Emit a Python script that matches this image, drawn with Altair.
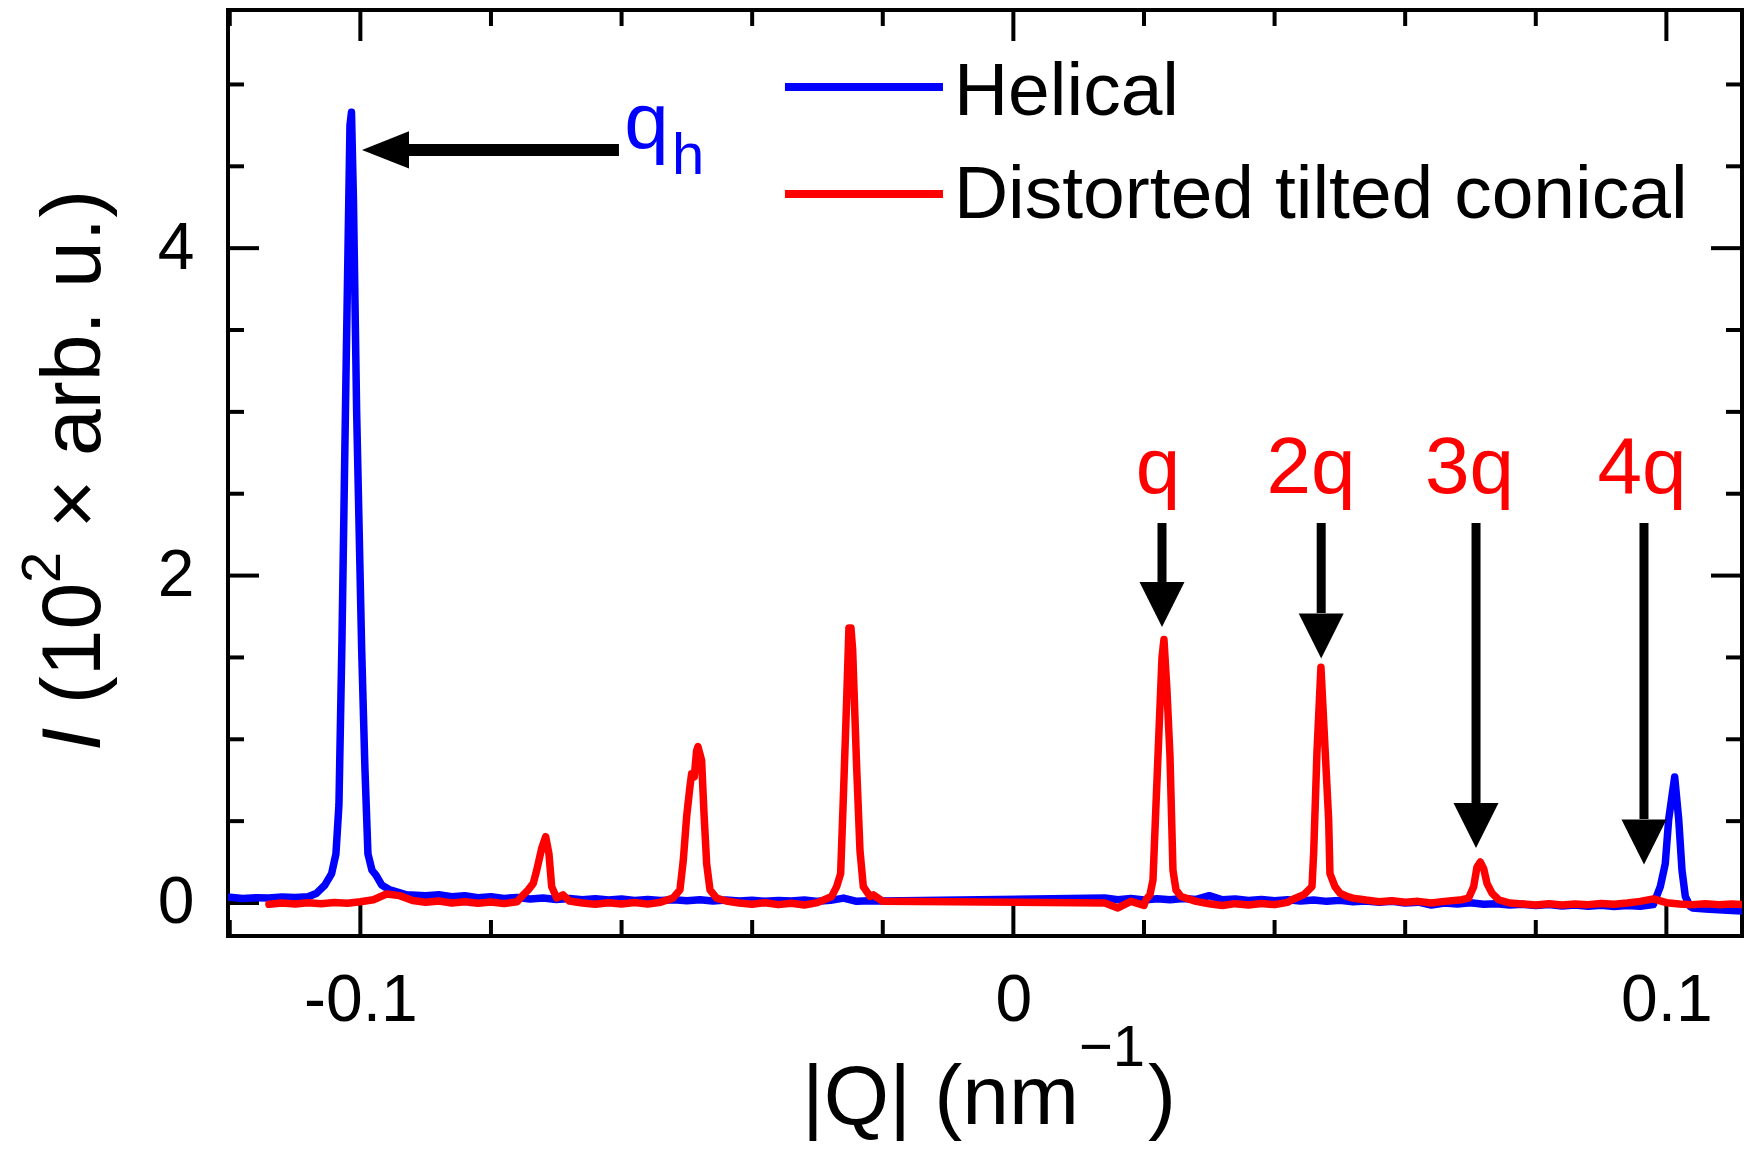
import altair as alt
import pandas as pd

FONT = "Liberation Sans"
BLUE = "#0000ff"
RED = "#ff0000"
STEP = 0.002

# ---------------- data: Helical (blue) ----------------
# baseline segments: first Q, then one intensity every STEP
blue_base_1_start = -0.120
blue_base_1 = [0.035, 0.028, 0.032, 0.030, 0.036, 0.033, 0.038]
blue_base_2_start = -0.090
blue_base_2 = [0.045, 0.050, 0.038, 0.045, 0.032, 0.038, 0.028, 0.034, 0.025, 0.030,
               0.022, 0.028, 0.020, 0.026, 0.018, 0.024, 0.016, 0.022, 0.015, 0.020,
               0.014, 0.020, 0.012, 0.018, 0.012, 0.017, 0.010, 0.016, 0.012, 0.018,
               0.010, 0.016, 0.030, 0.010, 0.014, 0.012]
blue_base_3_start = 0.014
blue_base_3 = [0.030, 0.020, 0.028, 0.018, 0.026, 0.020, 0.028, 0.022, 0.045, 0.020,
               0.025, 0.016, 0.022, 0.014, 0.020, 0.012, 0.018, 0.010, 0.016, 0.008,
               0.012, 0.004, 0.010, 0.000, 0.005, -0.012, 0.000, -0.006, 0.002, -0.008,
               -0.004, -0.012, -0.008, -0.016, -0.010, -0.018, -0.012, -0.020, -0.014, -0.022,
               -0.016, -0.020]
blue_base_4_start = 0.104
blue_base_4 = [-0.030, -0.036, -0.042, -0.046, -0.050]

blue_peak_1_q = [-0.10669, -0.10542, -0.10440, -0.10374, -0.10328, -0.10282, -0.10221,
                 -0.10159, -0.10136, -0.10106, -0.10057, -0.09980, -0.09930, -0.09884,
                 -0.09822, -0.09761, -0.09674, -0.09547, -0.09291]
blue_peak_1_i = [0.06, 0.11, 0.18, 0.30, 0.60, 1.60, 3.20,
                 4.75, 4.83, 4.30, 3.00, 1.55, 0.82, 0.30,
                 0.20, 0.17, 0.11, 0.08, 0.05]
blue_peak_2_q = [0.09800, 0.09907, 0.09983, 0.10035, 0.10127, 0.10189, 0.10239, 0.10290, 0.10362]
blue_peak_2_i = [-0.01, 0.10, 0.24, 0.51, 0.77, 0.51, 0.20, 0.04, -0.02]

# ---------------- data: Distorted tilted conical (red) ----------------
red_base_1_start = -0.114
red_base_1 = [-0.008, 0.000, -0.006, 0.002, -0.004, 0.003, -0.002, 0.008, 0.020, 0.055,
              0.045, 0.015, 0.005, 0.012, 0.000, 0.008, -0.002, 0.006, -0.004, 0.008]
red_base_2_start = -0.068
red_base_2 = [0.012, 0.000, -0.008, 0.002, -0.006, 0.003, -0.007, 0.005]
red_base_3_start = -0.044
red_base_3 = [0.012, 0.000, -0.008, 0.002, -0.010, -0.002, -0.012, 0.002]
red_base_4_start = -0.020
red_base_4 = [0.010]
red_base_5_start = 0.014
red_base_5 = [0.000, -0.030, 0.010, -0.015]
red_base_6_start = 0.028
red_base_6 = [0.010, -0.005, -0.015, -0.004, -0.012, -0.003, -0.010, 0.004]
red_base_7_start = 0.052
red_base_7 = [0.030, 0.018, 0.008, 0.014, 0.004, 0.010, 0.000, 0.010]
red_base_8_start = 0.076
red_base_8 = [0.000, -0.006, -0.012, -0.004, -0.012, -0.006, -0.010, -0.003, -0.008, 0.000,
              0.010, 0.025, 0.002, -0.006, -0.010, -0.004, -0.010, -0.006, -0.010]

red_peak_a_q = [-0.07505, -0.07429, -0.07352, -0.07300, -0.07223, -0.07162, -0.07112,
                -0.07070, -0.06994, -0.06897]
red_peak_a_i = [0.05, 0.08, 0.12, 0.20, 0.334, 0.405, 0.30, 0.10, 0.03, 0.05]
red_peak_b_q = [-0.05213, -0.05106, -0.05055, -0.05003, -0.04953, -0.04927, -0.04887,
                -0.04851, -0.04830, -0.04774, -0.04738, -0.04697, -0.04646, -0.04545]
red_peak_b_i = [0.03, 0.08, 0.26, 0.53, 0.71, 0.79, 0.77, 0.93, 0.955, 0.87, 0.55, 0.24, 0.08, 0.03]
red_peak_c_q = [-0.02783, -0.02706, -0.02645, -0.02605, -0.02553, -0.02518, -0.02487,
                -0.02461, -0.02400, -0.02349, -0.02298, -0.02196, -0.02145]
red_peak_c_i = [0.04, 0.10, 0.18, 0.63, 1.24, 1.68, 1.68, 1.545, 0.83, 0.32, 0.10, 0.04, 0.05]
red_peak_q_q = [0.02031, 0.02092, 0.02138, 0.02184, 0.02230, 0.02276, 0.02306, 0.02352,
                0.02398, 0.02444, 0.02490, 0.02567, 0.02643]
red_peak_q_i = [0.02, 0.05, 0.14, 0.60, 1.05, 1.50, 1.61, 1.30, 0.90, 0.20, 0.08, 0.04, 0.03]
red_peak_2q_q = [0.04266, 0.04446, 0.04573, 0.04599, 0.04649, 0.04710, 0.04776, 0.04828,
                 0.04848, 0.04925, 0.05002, 0.05109]
red_peak_2q_i = [0.02, 0.05, 0.10, 0.31, 0.92, 1.44, 0.92, 0.51, 0.18, 0.10, 0.06, 0.04]
red_peak_3q_q = [0.06870, 0.06972, 0.07049, 0.07100, 0.07150, 0.07202, 0.07253, 0.07329, 0.07432]
red_peak_3q_i = [0.02, 0.03, 0.10, 0.22, 0.25, 0.21, 0.12, 0.06, 0.02]

# ---------------- annotations ----------------
harm_labels = ["q", "2q", "3q", "4q"]
harm_label_q = [0.02215, 0.04557, 0.06985, 0.09626]
harm_label_v = 2.505
arrow_q = [0.02276, 0.04714, 0.07085, 0.09657]
arrow_top = 2.321
arrow_base = [1.961, 1.771, 0.611, 0.513]
arrow_tip = [1.686, 1.490, 0.336, 0.232]

qh_arrow_tail = -0.06040
qh_arrow_base = -0.09256
qh_arrow_tip = -0.09975
qh_arrow_v = 4.60
qh_text_q, qh_text_v = -0.05960, 4.612
qh_sub_q, qh_sub_v = -0.05228, 4.453

series_names = ["Helical", "Distorted tilted conical"]
legend_line_q = [-0.03498, -0.01078]
legend_line_v = [4.985, 4.331]
legend_text_q = -0.00910
legend_text_v = [4.814, 4.184]

x_major_ticks = [-0.1, 0.0, 0.1]
x_minor_ticks = [-0.12, -0.08, -0.06, -0.04, -0.02, 0.02, 0.04, 0.06, 0.08]
y_major_ticks = [0, 2, 4]
y_minor_ticks = [0.5, 1, 1.5, 2.5, 3, 3.5, 4.5, 5]

# ---------------- layout ----------------
W, H = 1514, 926
MAJ, MIN = 31, 16


def build(segments, peaks):
    rows = []
    for start, vals in segments:
        for i, v in enumerate(vals):
            rows.append((round(start + i * STEP, 4), v))
    for qs, vs in peaks:
        rows.extend(zip(qs, vs))
    rows.sort()
    return pd.DataFrame(rows, columns=["q", "v"])


blue_df = build(
    [(blue_base_1_start, blue_base_1), (blue_base_2_start, blue_base_2),
     (blue_base_3_start, blue_base_3), (blue_base_4_start, blue_base_4)],
    [(blue_peak_1_q, blue_peak_1_i), (blue_peak_2_q, blue_peak_2_i)])
red_df = build(
    [(red_base_1_start, red_base_1), (red_base_2_start, red_base_2),
     (red_base_3_start, red_base_3), (red_base_4_start, red_base_4),
     (red_base_5_start, red_base_5), (red_base_6_start, red_base_6),
     (red_base_7_start, red_base_7), (red_base_8_start, red_base_8)],
    [(red_peak_a_q, red_peak_a_i), (red_peak_b_q, red_peak_b_i), (red_peak_c_q, red_peak_c_i),
     (red_peak_q_q, red_peak_q_i), (red_peak_2q_q, red_peak_2q_i), (red_peak_3q_q, red_peak_3q_i)])

xs = alt.Scale(domain=[-0.12027, 0.11158], nice=False, zero=False)
ys = alt.Scale(domain=[-0.2016, 5.4548], nice=False, zero=False)
xa = alt.Axis(values=x_major_ticks, title=None, ticks=False, tickSize=0, domain=False, grid=False,
              labelFontSize=66, labelFont=FONT, labelColor="black", labelPadding=84,
              labelBaseline="alphabetic", labelFlush=False, labelOverlap=False, format="~g",
              labelExpr="replace(datum.label, '\u2212', '-')")
ya = alt.Axis(values=y_major_ticks, title=None, ticks=False, tickSize=0, domain=False, grid=False,
              labelFontSize=66, labelFont=FONT, labelColor="black", labelPadding=34,
              labelFlush=False, labelOverlap=False, format="~g")
X = alt.X("q:Q", scale=xs, axis=xa)
Y = alt.Y("v:Q", scale=ys, axis=ya)
cscale = alt.Scale(domain=series_names, range=[BLUE, RED])

layers = []

# inward ticks on all four sides
for vals, ln in ((x_major_ticks, MAJ), (x_minor_ticks, MIN)):
    d = pd.DataFrame({"q": vals})
    layers.append(alt.Chart(d).mark_rule(color="black", strokeWidth=4).encode(
        x=X, y=alt.value(H), y2=alt.value(H - ln)))
    layers.append(alt.Chart(d).mark_rule(color="black", strokeWidth=4).encode(
        x=X, y=alt.value(0), y2=alt.value(ln)))
for vals, ln in ((y_major_ticks, MAJ), (y_minor_ticks, MIN)):
    d = pd.DataFrame({"v": vals})
    layers.append(alt.Chart(d).mark_rule(color="black", strokeWidth=4).encode(
        y=Y, x=alt.value(0), x2=alt.value(ln)))
    layers.append(alt.Chart(d).mark_rule(color="black", strokeWidth=4).encode(
        y=Y, x=alt.value(W), x2=alt.value(W - ln)))

# data lines
layers.append(alt.Chart(blue_df).mark_line(color=BLUE, strokeWidth=7.5, clip=True,
                                           strokeJoin="round", strokeCap="round").encode(x=X, y=Y))
layers.append(alt.Chart(red_df).mark_line(color=RED, strokeWidth=7.5, clip=True,
                                          strokeJoin="round", strokeCap="round").encode(x=X, y=Y))

# harmonic arrows
arr_df = pd.DataFrame({
    "q": arrow_q, "v": [arrow_top] * 4, "v2": arrow_base,
})
head_df = pd.DataFrame({
    "q": arrow_q, "v": [(b + t) / 2 for b, t in zip(arrow_base, arrow_tip)],
})
lab_df = pd.DataFrame({"q": harm_label_q, "v": [harm_label_v] * 4, "label": harm_labels})
layers.append(alt.Chart(arr_df).mark_rule(color="black", strokeWidth=9).encode(
    x=X, y=Y, y2="v2:Q"))
layers.append(alt.Chart(head_df).mark_point(
    shape="M-1,-1L1,-1L0,1Z", size=2025, filled=True, color="black", opacity=1,
    strokeWidth=0).encode(x=X, y=Y))
layers.append(alt.Chart(lab_df).mark_text(
    font=FONT, fontSize=80, color=RED, align="center", baseline="alphabetic").encode(
    x=X, y=Y, text="label:N"))

# q_h arrow and label
qh_df = pd.DataFrame({"q": [qh_arrow_tail], "q2": [qh_arrow_base], "v": [qh_arrow_v]})
qh_head = pd.DataFrame({"q": [(qh_arrow_base + qh_arrow_tip) / 2], "v": [qh_arrow_v]})
layers.append(alt.Chart(qh_df).mark_rule(color="black", strokeWidth=12).encode(
    x=X, x2="q2:Q", y=Y))
layers.append(alt.Chart(qh_head).mark_point(
    shape="M1,-0.79L1,0.79L-1,0Z", size=2209, filled=True, color="black", opacity=1,
    strokeWidth=0).encode(x=X, y=Y))
layers.append(alt.Chart(pd.DataFrame({"q": [qh_text_q], "v": [qh_text_v]})).mark_text(
    text="q", font=FONT, fontSize=80, color=BLUE, align="left", baseline="alphabetic").encode(
    x=X, y=Y))
layers.append(alt.Chart(pd.DataFrame({"q": [qh_sub_q], "v": [qh_sub_v]})).mark_text(
    text="h", font=FONT, fontSize=58, color=BLUE, align="left", baseline="alphabetic").encode(
    x=X, y=Y))

# legend
leg_lines = pd.DataFrame({"q": [legend_line_q[0]] * 2, "q2": [legend_line_q[1]] * 2,
                          "v": legend_line_v, "series": series_names})
leg_text = pd.DataFrame({"q": [legend_text_q] * 2, "v": legend_text_v, "series": series_names})
layers.append(alt.Chart(leg_lines).mark_rule(strokeWidth=8).encode(
    x=X, x2="q2:Q", y=Y, color=alt.Color("series:N", scale=cscale, legend=None)))
layers.append(alt.Chart(leg_text).mark_text(
    font=FONT, fontSize=75, color="black", align="left", baseline="alphabetic").encode(
    x=X, y=Y, text="series:N"))

# axis titles (with italic I and superscripts)
one = pd.DataFrame({"k": [0]})


def txt(s, px, py, size, angle=0, style="normal"):
    return alt.Chart(one).mark_text(
        text=s, font=FONT, fontSize=size, fontStyle=style, color="black", align="left",
        baseline="alphabetic", angle=angle).encode(x=alt.value(px), y=alt.value(py))


layers += [
    txt("I", -128, 741, 84, 270, "italic"),
    txt("(10", -128, 694.2, 84, 270),
    txt("2", -168, 572.9, 56, 270),
    txt("\u00d7 arb. u.)", -128, 518.4, 84, 270),
    txt("|Q| (nm", 574, 1114, 84),
    txt("\u22121", 851, 1056, 58),
    txt(")", 920, 1114, 84),
]

chart = alt.layer(*layers).properties(
    width=W, height=H,
    padding={"left": 220, "top": 2, "right": 2, "bottom": 206},
    autosize=alt.AutoSizeParams(type="none"),
).configure(font=FONT).configure_view(stroke="black", strokeWidth=4)

chart.save("out.html", embed_options={"renderer": "svg", "actions": False})
